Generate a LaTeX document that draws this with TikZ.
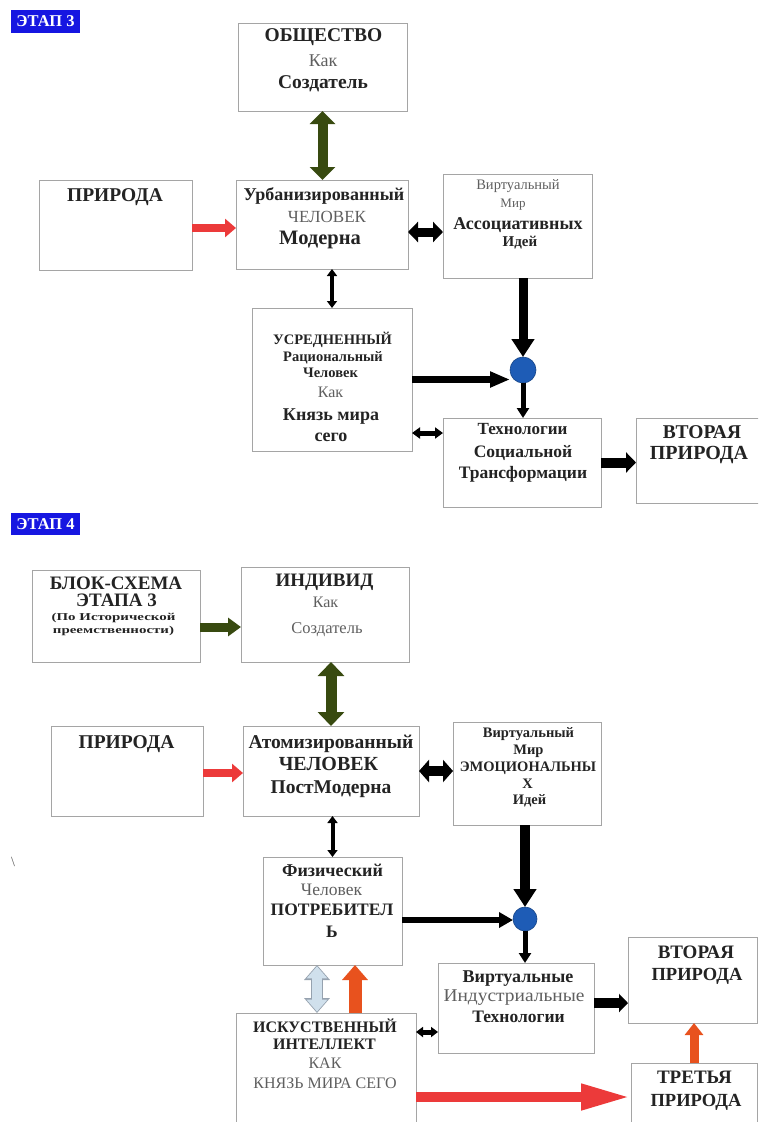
\documentclass[tikz,border=0pt]{standalone}
\usepackage{fontspec}
\setmainfont{Liberation Serif}
\usepackage{graphicx}
\usetikzlibrary{arrows.meta,calc}
\definecolor{boxgray}{RGB}{165,165,165}
\definecolor{txtdark}{RGB}{35,35,35}
\definecolor{txtgray}{RGB}{95,95,95}
\definecolor{olivedk}{RGB}{56,74,16}
\definecolor{redarr}{RGB}{236,58,58}
\definecolor{orangearr}{RGB}{232,82,30}
\definecolor{lightbl}{RGB}{208,224,236}
\definecolor{lightblo}{RGB}{150,162,175}
\definecolor{dotblue}{RGB}{30,92,182}
\definecolor{labelblue}{RGB}{22,22,225}
\newcommand\tx[6]{\node[#5, anchor=base, inner sep=0pt] (#1) at ({#2},{#3+0.34*#4}) {\fontsize{#4}{#4}\selectfont #6};}
\newcommand\bx[5]{\node[bx, minimum width={#4pt-#2pt}, minimum height={#5pt-#3pt}] (#1) at ({(#2+#4)/2},{(#3+#5)/2}) {};}
\begin{document}
\begin{tikzpicture}[x=1pt,y=-1pt,
  bx/.style={draw=boxgray, line width=0.8pt, fill=white, inner sep=0pt, outer sep=0pt, rectangle},
  bt/.style={font=\bfseries, text=txtdark},
  rt/.style={text=txtgray},
  lbl/.style={fill=labelblue, text=white, font=\bfseries, inner sep=0pt, outer sep=0pt, minimum width=69pt, minimum height=23pt, anchor=north west},
  dotc/.style={circle, fill=dotblue, draw=dotblue!75!black, line width=0.6pt, inner sep=0pt, outer sep=0pt},
  ar/.style n args={4}{draw=#1, line width=#2pt, -{Triangle[width=#3pt,length=#4pt]}},
  dar/.style n args={4}{draw=#1, line width=#2pt, {Triangle[width=#3pt,length=#4pt]}-{Triangle[width=#3pt,length=#4pt]}},
]
\useasboundingbox (0,0) rectangle (758,1122);
\clip (0,0) rectangle (758,1122);
\fill[white] (0,0) rectangle (758,1122);

% ---------------- ETAP 3 ----------------
\node[lbl] (et3) at (11,10) {\fontsize{16.5}{16.5}\selectfont ЭТАП 3};

\bx{obs}{238}{23}{407}{111}
\bx{pri}{39}{180}{192}{270}
\bx{urb}{236}{180}{408}{269}
\bx{vir}{443}{174}{592}{278}
\bx{usr}{252}{308}{412}{451}
\bx{tec}{443}{418}{601}{507}
\bx{vt}{636}{418}{764}{503}
\node[dotc, minimum size=26pt] (dot) at (523,370) {};

\tx{obs1}{323.5}{35}{19.5}{bt}{ОБЩЕСТВО}
\tx{obs2}{323}{60}{18}{rt}{Как}
\tx{obs3}{323}{82}{19.5}{bt}{Создатель}
\tx{pri1}{115}{195}{19.5}{bt}{ПРИРОДА}
\tx{urb1}{324}{194}{18}{bt}{Урбанизированный}
\tx{urb2}{327}{217}{17}{rt}{ЧЕЛОВЕК}
\tx{urb3}{320}{238}{20.5}{bt}{Модерна}
\tx{vir1}{518}{185}{14.5}{rt}{Виртуальный}
\tx{vir2}{513}{203}{13}{rt}{Мир}
\tx{vir3}{518}{223}{18}{bt}{Ассоциативных}
\tx{vir4}{520}{241}{15}{bt}{Идей}
\tx{usr1}{332.5}{340}{14.5}{bt}{УСРЕДНЕННЫЙ}
\tx{usr2}{333}{357}{14.5}{bt}{Рациональный}
\tx{usr3}{330.5}{373}{14.5}{bt}{Человек}
\tx{usr4}{330.5}{392}{16}{rt}{Как}
\tx{usr5}{331}{414}{18}{bt}{Князь мира}
\tx{usr6}{331}{435}{18}{bt}{сего}
\tx{tec1}{522.5}{429}{17}{bt}{Технологии}
\tx{tec2}{523}{452}{17.5}{bt}{Социальной}
\tx{tec3}{523}{473}{17.5}{bt}{Трансформации}
\tx{vt1}{702}{432}{19.5}{bt}{ВТОРАЯ}
\tx{vt2t}{699}{453}{20}{bt}{ПРИРОДА}

\coordinate (c2) at ([yshift=-3pt]pri.east);
\coordinate (c3) at ([yshift=-7.5pt]urb.east);
\coordinate (c8) at ([yshift=29.5pt]tec.west);
\draw[dar={olivedk}{10}{25}{13}] (obs.south) -- (obs.south |- urb.north);
\draw[ar={redarr}{8}{18}{11}] (c2) -- (c2 -| urb.west);
\draw[dar={black}{9}{20}{10}] (c3) -- (c3 -| vir.west);
\draw[dar={black}{4}{10}{7}] (usr.north) -- (usr.north |- urb.south);
\draw[ar={black}{9}{22}{18}] (dot.north |- vir.south) -- (dot.north);
\draw[ar={black}{7}{15}{20}] (usr.east) -- (usr.east -| dot.west);
\draw[ar={black}{5}{12}{10}] (dot.south) -- (dot.south |- tec.north);
\draw[dar={black}{5}{11}{8}] (c8) -- (c8 -| usr.east);
\draw[ar={black}{10}{20}{10}] (tec.east) -- (tec.east -| vt.west);

% ---------------- ETAP 4 ----------------
\node[lbl, minimum height=22pt] (et4) at (11,513) {\fontsize{16.5}{16.5}\selectfont ЭТАП 4};

\bx{blk}{32}{570}{200}{662}
\bx{ind}{241}{567}{409}{662}
\bx{prb}{51}{726}{203}{816}
\bx{atm}{243}{726}{419}{816}
\bx{emo}{453}{722}{601}{825}
\bx{fiz}{263}{857}{402}{965}
\bx{vin}{438}{963}{594}{1053}
\bx{vtb}{628}{937}{757}{1023}
\bx{trt}{631}{1063}{757}{1130}
\bx{aii}{236}{1013}{416}{1130}
\node[dotc, minimum size=24pt] (dotb) at (525,919) {};

\tx{blk1}{116}{583}{19}{bt}{БЛОК-СХЕМА}
\tx{blk2}{116.5}{600}{19}{bt}{ЭТАПА 3}
\tx{blk3}{113.5}{617}{10.5}{bt}{\scalebox{1.42}[1]{(По Исторической}}
\tx{blk4}{113.5}{630}{10.5}{bt}{\scalebox{1.42}[1]{преемственности)}}
\tx{ind1}{324.5}{580}{19}{bt}{ИНДИВИД}
\tx{ind2}{325.5}{602}{16}{rt}{Как}
\tx{ind3}{327}{628}{16.5}{rt}{Создатель}
\tx{prb1}{126.5}{742}{19.5}{bt}{ПРИРОДА}
\tx{atm1}{331}{742}{19.5}{bt}{Атомизированный}
\tx{atm2}{328.5}{764}{20}{bt}{ЧЕЛОВЕК}
\tx{atm3}{331}{787}{19.5}{bt}{ПостМодерна}
\tx{emo1}{528.5}{733}{14.5}{bt}{Виртуальный}
\tx{emo2}{528.5}{750}{14.5}{bt}{Мир}
\tx{emo3}{528}{767}{14.5}{bt}{ЭМОЦИОНАЛЬНЫ}
\tx{emo4}{527.5}{784}{14.5}{bt}{Х}
\tx{emo5}{529.5}{800}{14.5}{bt}{Идей}
\tx{fiz1}{332.5}{870}{18}{bt}{Физический}
\tx{fiz2}{331.5}{890}{17.5}{rt}{Человек}
\tx{fiz3}{332}{910}{17.5}{bt}{ПОТРЕБИТЕЛ}
\tx{fiz4}{332}{932}{17.5}{bt}{Ь}
\tx{vin1}{518}{976}{18}{bt}{Виртуальные}
\tx{vin2}{514}{995}{18}{rt}{\scalebox{1.08}[1]{Индустриальные}}
\tx{vin3}{518.5}{1017}{17.5}{bt}{Технологии}
\tx{vtb1}{696}{952}{19}{bt}{ВТОРАЯ}
\tx{vtb2}{697}{974}{18.5}{bt}{ПРИРОДА}
\tx{trt1}{694.5}{1077}{19}{bt}{ТРЕТЬЯ}
\tx{trt2}{696}{1100}{18.5}{bt}{ПРИРОДА}
\tx{aii1}{325}{1027}{16}{bt}{ИСКУСТВЕННЫЙ}
\tx{aii2}{324.5}{1044}{16}{bt}{ИНТЕЛЛЕКТ}
\tx{aii3}{325}{1063}{16}{rt}{КАК}
\tx{aii4}{325}{1083}{16}{rt}{КНЯЗЬ МИРА СЕГО}
\tx{bsl}{13}{862}{14}{rt}{\textbackslash}

\coordinate (c10) at ([yshift=-11pt]blk.east);
\coordinate (c12) at ([yshift=-2pt]prb.east);
\coordinate (c16) at ([yshift=-9pt]fiz.east);
\coordinate (c18) at ([yshift=5pt]vin.east);
\coordinate (c19) at ([yshift=-24pt]vin.west);
\coordinate (c20) at ([xshift=-15.5pt]fiz.south);
\coordinate (c21) at ([xshift=22.5pt]fiz.south);
\coordinate (c23) at ([yshift=-25.5pt]aii.east);
\draw[ar={olivedk}{9}{18}{13}] (c10) -- (c10 -| ind.west);
\draw[dar={olivedk}{11}{26}{14}] (atm.north) -- (atm.north |- ind.south);
\draw[ar={redarr}{8}{18}{11}] (c12) -- (c12 -| atm.west);
\draw[dar={black}{10}{22}{10}] (atm.east) -- (atm.east -| emo.west);
\draw[dar={black}{4}{10}{7}] (fiz.north) -- (fiz.north |- atm.south);
\draw[ar={black}{10}{22}{18}] (dotb.north |- emo.south) -- (dotb.north);
\draw[ar={black}{6}{15}{14}] (c16) -- (c16 -| dotb.west);
\draw[ar={black}{5}{12}{10}] (dotb.south) -- (dotb.south |- vin.north);
\draw[ar={black}{10}{18}{9}] (c18) -- (c18 -| vtb.west);
\draw[dar={black}{5}{10}{7}] (c19) -- (c19 -| aii.east);
\draw[dar={lightblo}{12}{25}{15}] (c20) -- (c20 |- aii.north);
\draw[dar={lightbl}{9.6}{20}{12}, shorten <=1.3pt, shorten >=1.3pt] (c20) -- (c20 |- aii.north);
\draw[ar={orangearr}{13}{25}{15}] (c21 |- aii.north) -- (c21);
\draw[ar={orangearr}{9}{18}{12}] (trt.north) -- (trt.north |- vtb.south);
\draw[ar={redarr}{10}{24}{50}] (c23) -- (c23 -| trt.west);
\end{tikzpicture}
\end{document}
